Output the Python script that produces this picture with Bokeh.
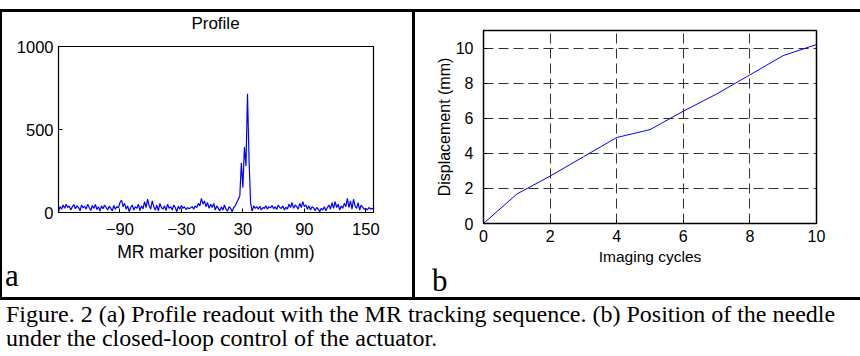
import numpy as np
from bokeh.plotting import figure
from bokeh.models import Div, Spacer, FixedTicker
from bokeh.layouts import row, column
from bokeh.embed import file_html
from bokeh.resources import INLINE

# ---------------- data ----------------
# Panel a: profile readout (MR marker position in mm, sampled every 1.5 mm from -150 mm)
profile_start = -150.0
profile_step = 1.5
profile_values = [
    5, 35, 20, 45, 25, 50, 30, 40, 15, 35, 48, 22, 40, 30, 10, 45, 28, 38, 20, 50,
    30, 12, 42, 25, 48, 18, 35, 8, 40, 22, 45, 30, 15, 38, 25, 10, 42, 20, 35, 28,
    60, 75, 35, 55, 20, 40, 5, 30, 45, 15, 35, 25, 50, 12, 40, 22, 65, 30, 80, 40,
    20, 70, 35, 15, 45, 10, 55, 30, 20, 40, 12, 50, 25, 35, 15, 45, 30, 5, 38, 20,
    42, 25, 35, 18, 30, 22, 28, 35, 20, 40, 30, 55, 40, 85, 50, 70, 35, 60, 25, 50,
    30, 55, 15, 40, 25, 10, 35, 15, 45, 20, 8, 35, 25, 5, 30, 40, 60, 80, 100, 300,
    150, 395, 280, 715, 320, 60, 8, 40, 25, 35, 20, 38, 15, 30, 25, 40, 20, 35, 28, 42,
    22, 35, 18, 45, 30, 25, 40, 15, 32, 20, 50, 30, 60, 25, 45, 35, 20, 55, 30, 65,
    35, 45, 20, 40, 15, 35, 28, 10, 30, 20, 5, 25, 15, 35, 10, 30, 45, 20, 60, 25,
    65, 30, 50, 15, 40, 25, 55, 35, 85, 30, 70, 20, 80, 40, 25, 60, 15, 45, 30, 20,
    25, 15, 30, 20, 25, 22,
]
profile_positions = profile_start + profile_step * np.arange(len(profile_values))
a_xticks = [-90, -30, 30, 90, 150]
a_yticks = [0, 500, 1000]

# Panel b: needle displacement vs imaging cycles
cycles = [0, 1, 2, 3, 4, 5, 6, 7, 8, 9, 10]
displacement = [0, 1.68, 2.7, 3.8, 4.9, 5.35, 6.4, 7.38, 8.47, 9.57, 10.2]
b_xticks = [0, 2, 4, 6, 8, 10]
b_yticks = [0, 2, 4, 6, 8, 10]

caption_lines = ["Figure. 2 (a) Profile readout with the MR tracking sequence. (b) Position of the needle",
                 "under the closed-loop control of the actuator."]

SANS = "Liberation Sans"
SERIF = "Liberation Serif"

def style_axis(ax, size):
    ax.major_label_text_font = SANS
    ax.major_label_text_font_size = size
    ax.major_label_text_color = "black"
    ax.axis_line_color = "black"
    ax.major_tick_line_color = "black"
    ax.major_tick_in = 4
    ax.major_tick_out = 0
    ax.minor_tick_line_color = None
    ax.axis_label_text_font = SANS
    ax.axis_label_text_font_style = "normal"
    ax.axis_label_text_color = "black"

def text_div(html, w, h):
    return Div(text=html, width=w, height=h, margin=(0, 0, 0, 0),
               styles={"overflow": "visible"})

def letter_div(letter, w, h, shift, left):
    html = ('<div style="position: relative; top: %dpx; left: %dpx; font-family: \'Liberation Serif\'; '
            'font-size: 31px; line-height: %dpx; color: black;">%s</div>' % (shift, left, h, letter))
    return text_div(html, w, h)

# ---------------- panel a ----------------
title_a = text_div('<div style="margin-left: 56px; width: 315px; text-align: center; '
                   'font-family: \'Liberation Sans\'; font-size: 17px; line-height: 17px; '
                   'padding-top: 3px; color: black;">Profile</div>', 410, 20)

pa = figure(width=410, height=235, x_range=(-150, 157.5), y_range=(0, 1000),
            output_backend="svg", toolbar_location=None,
            min_border_left=56, min_border_right=39, min_border_top=14, min_border_bottom=55)
pa.line(profile_positions, profile_values, line_color="#0000ff", line_width=1.2)
pa.xgrid.visible = False
pa.ygrid.visible = False
pa.outline_line_color = "black"
pa.outline_line_width = 1.2
pa.xaxis.ticker = FixedTicker(ticks=a_xticks)
pa.yaxis.ticker = FixedTicker(ticks=a_yticks)
pa.xaxis.axis_label = "MR marker position (mm)"
for ax in pa.xaxis + pa.yaxis:
    style_axis(ax, "16.5px")
pa.xaxis.axis_label_text_font_size = "17.5px"
pa.xaxis.major_label_standoff = 10
pa.xaxis.axis_label_standoff = 4
pa.yaxis.major_label_standoff = 5
pa.background_fill_color = "white"
pa.border_fill_color = "white"

letter_a = letter_div("a", 410, 30, -6, 3)

# ---------------- panel b ----------------
pb = figure(width=445, height=256, x_range=(0, 10), y_range=(0, 11),
            output_backend="svg", toolbar_location=None,
            min_border_left=68, min_border_right=44, min_border_top=18, min_border_bottom=45)
pb.line(cycles, displacement, line_color="#0000ff", line_width=1)
pb.outline_line_color = "black"
pb.outline_line_width = 1.5
pb.xaxis.ticker = FixedTicker(ticks=b_xticks)
pb.yaxis.ticker = FixedTicker(ticks=b_yticks)
pb.xaxis.axis_label = "Imaging cycles"
pb.yaxis.axis_label = "Displacement (mm)"
for ax in pb.xaxis + pb.yaxis:
    style_axis(ax, "16px")
pb.xaxis.axis_label_text_font_size = "15.5px"
pb.yaxis.axis_label_text_font_size = "16px"
pb.xaxis.major_label_standoff = 6
pb.xaxis.axis_label_standoff = 3
pb.yaxis.major_label_standoff = 10
pb.yaxis.axis_label_standoff = 0
for g in (pb.xgrid, pb.ygrid):
    g.grid_line_color = "#333333"
    g.grid_line_dash = "10 5"
    g.grid_line_width = 1
pb.background_fill_color = "white"
pb.border_fill_color = "white"

letter_b = letter_div("b", 445, 29, -2, 17)

# ---------------- frame & caption ----------------
def bar(w, h):
    return Div(width=w, height=h, margin=(0, 0, 0, 0), styles={"background-color": "black"})

panels = row(bar(2, 285), column(title_a, pa, letter_a, spacing=0), bar(3, 285),
             column(pb, letter_b, spacing=0), spacing=0)
cap_html = ('<div style="font-family: \'Liberation Serif\'; font-size: 24px; line-height: 24px; '
            'color: black; white-space: nowrap; padding-top: 2px; padding-left: 6px;">'
            + "<br>".join(caption_lines) + "</div>")
cap = Div(text=cap_html, width=860, height=56, margin=(0, 0, 0, 0))
layout = column(Spacer(width=860, height=9, margin=(0, 0, 0, 0)), bar(860, 3), panels,
                bar(860, 3), cap, spacing=0)

open("out.html", "w").write(file_html(layout, INLINE))
